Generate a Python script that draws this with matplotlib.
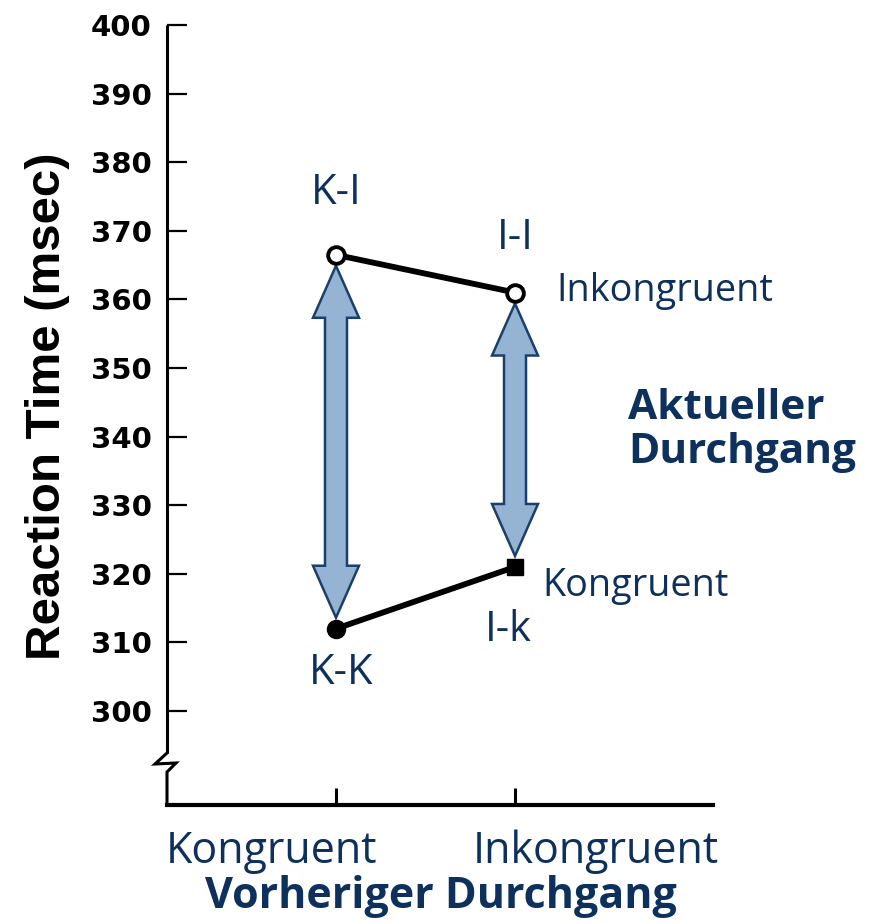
import matplotlib
matplotlib.use("Agg")
import matplotlib.pyplot as plt
from matplotlib.patches import Polygon

# Previous-trial condition on the x axis, current-trial condition as lines
prev_labels = ["Kongruent", "Inkongruent"]
rt_incongruent = [366.5, 361.0]   # K-I, I-I
rt_congruent = [312.0, 321.0]     # K-K, I-k
point_labels_incong = ["K-I", "I-I"]
point_labels_cong = ["K-K", "I-k"]
yticks = list(range(300, 401, 10))

NAVY = "#0e305c"
ARROW_FILL = "#95b3d3"
ARROW_EDGE = "#1b3f6c"

W, H = 886, 924
fig = plt.figure(figsize=(W / 100, H / 100), dpi=100)

# axes frame in pixels: left spine x=167, right end 713, top (400) y=25, bottom y=805
L, R, T, B = 167, 713, 25, 805
ax = fig.add_axes([L / W, 1 - B / H, (R - L) / W, (B - T) / H])
ax.set_ylim(286.3, 400)
ax.set_xlim(-0.944, 2.106)
xs = [0, 1]

for s in ["top", "right", "left"]:
    ax.spines[s].set_visible(False)
ax.spines["bottom"].set_linewidth(3)
ax.spines["bottom"].set_color("black")

# left spine with a break mark near the bottom
tf = ax.transAxes
sx = lambda p: p / (R - L)
sy = lambda p: p / (B - T)
ax.plot([0, 0], [sy(805 - 753), 1.0], color="black", lw=2.2, transform=tf, clip_on=False,
        solid_capstyle="butt")
ax.plot([0, sx(-12), sx(9), 0, 0],
        [sy(805 - 753), sy(805 - 764), sy(805 - 763), sy(805 - 772), 0],
        color="black", lw=2.2, transform=tf, clip_on=False, solid_joinstyle="miter")

ax.set_yticks(yticks)
ax.set_yticklabels([str(v) for v in yticks], fontfamily="DejaVu Sans", fontweight="bold",
                   fontsize=21)
ax.tick_params(axis="y", direction="in", length=14.5, width=1.6, pad=11, color="black")
ax.set_xticks(xs)
ax.set_xticklabels([])
ax.tick_params(axis="x", direction="in", length=12, width=2.2, color="black")

ax.set_ylabel("Reaction Time (msec)", fontfamily="Liberation Sans", fontweight="bold",
              fontsize=35.5)
ax.yaxis.set_label_coords(-0.177, (805 - 406) / (B - T))

# double-headed arrows between current-incongruent and current-congruent points
gap = 1.6
head_hw = 23 / 179.0        # half width of head in x units
shaft_hw = 11 / 179.0
head_len = 52 / 6.86        # head length in y units
for x, yt, yb in zip(xs, rt_incongruent, rt_congruent):
    top = yt - gap
    bot = yb + gap
    verts = [
        (x, top),
        (x + head_hw, top - head_len),
        (x + shaft_hw, top - head_len),
        (x + shaft_hw, bot + head_len),
        (x + head_hw, bot + head_len),
        (x, bot),
        (x - head_hw, bot + head_len),
        (x - shaft_hw, bot + head_len),
        (x - shaft_hw, top - head_len),
        (x - head_hw, top - head_len),
    ]
    ax.add_patch(Polygon(verts, closed=True, facecolor=ARROW_FILL, edgecolor=ARROW_EDGE,
                         lw=1.8, zorder=2, joinstyle="miter"))

# data lines
ax.plot(xs, rt_incongruent, color="black", lw=4.2, zorder=3, marker="o", markersize=12,
        markerfacecolor="white", markeredgecolor="black", markeredgewidth=2.8)
ax.plot(xs, rt_congruent, color="black", lw=4.2, zorder=3)
ax.plot(xs[0], rt_congruent[0], "o", color="black", markersize=13, zorder=4)
ax.plot(xs[1], rt_congruent[1], "s", color="black", markersize=11, zorder=4)

# point labels (offsets in pixels -> points)
pt = 0.72
lab_kw = dict(textcoords="offset points", color=NAVY, fontfamily="Open Sans", va="baseline",
              fontsize=30)
ax.annotate(point_labels_incong[0], (xs[0], rt_incongruent[0]), xytext=(0, 51 * pt),
            ha="center", **lab_kw)
ax.annotate(point_labels_incong[1], (xs[1], rt_incongruent[1]), xytext=(0, 44 * pt),
            ha="center", **lab_kw)
ax.annotate(point_labels_cong[0], (xs[0], rt_congruent[0]), xytext=(5 * pt, -55 * pt),
            ha="center", **lab_kw)
ax.annotate(point_labels_cong[1], (xs[1], rt_congruent[1]), xytext=(-7 * pt, -74 * pt),
            ha="center", **lab_kw)

side_kw = dict(textcoords="offset points", color=NAVY, fontfamily="Open Sans", va="baseline",
               ha="left", fontsize=27.2)
ax.annotate("Inkongruent", (xs[1], rt_incongruent[1]), xytext=(41 * pt, -8 * pt), **side_kw)
ax.annotate("Kongruent", (xs[1], rt_congruent[1]), xytext=(27 * pt, -29 * pt), **side_kw)

ax.text(628 / W, 1 - 463 / H, "Aktueller\nDurchgang", transform=fig.transFigure,
        color=NAVY, fontfamily="Open Sans", fontweight="bold", fontsize=30.5,
        ha="left", va="baseline", linespacing=1.1)

# x category labels and axis title
fig.text(271 / W, 1 - 863 / H, prev_labels[0], color=NAVY, fontfamily="Open Sans",
         fontsize=31, ha="center", va="baseline")
fig.text(596 / W, 1 - 863 / H, prev_labels[1], color=NAVY, fontfamily="Open Sans",
         fontsize=31, ha="center", va="baseline")
fig.text(441 / W, 1 - 908 / H, "Vorheriger Durchgang", color=NAVY, fontfamily="Open Sans",
         fontweight="bold", fontsize=31, ha="center", va="baseline")

fig.savefig("out.png", dpi=100, facecolor="white")
